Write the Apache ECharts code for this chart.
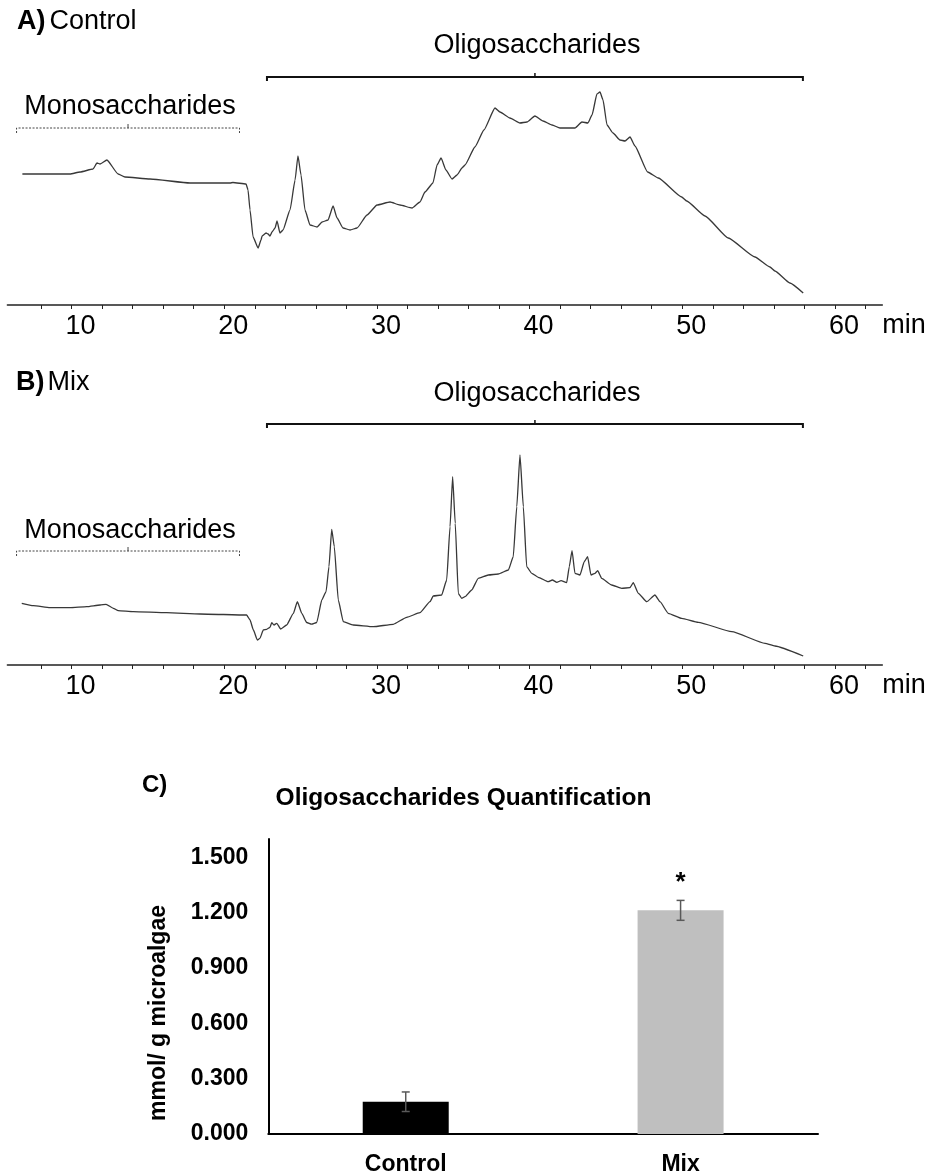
<!DOCTYPE html>
<html><head><meta charset="utf-8">
<script src="https://cdn.jsdelivr.net/npm/echarts@6/dist/echarts.min.js"></script>
<style>html,body{margin:0;padding:0;background:#fff}#c{width:930px;height:1176px}</style>
</head><body><div id="c"></div>
<script>
// ---------- Chromatogram A (Control): retention time (min) and detector signal (arb. units)
const controlTime = [6.78,9.90,10.56,11.41,11.67,11.87,12.32,13.05,13.50,15.14,17.76,20.38,20.57,21.43,21.56,21.69,21.89,22.22,22.41,22.48,22.74,22.87,23.00,23.13,23.33,23.46,23.65,23.85,24.31,24.64,24.83,25.03,25.29,25.62,26.08,26.41,26.80,27.13,27.39,27.78,28.24,28.70,29.35,30.01,30.86,31.51,32.30,32.82,33.15,33.67,33.94,34.20,34.52,34.92,35.25,35.57,35.77,36.42,37.01,37.73,38.06,38.71,39.37,39.83,40.35,40.88,41.47,41.99,42.97,43.43,43.82,44.09,44.41,44.61,44.81,45.07,45.46,45.92,46.25,46.58,46.90,47.73,48.43,49.96,50.29,51.49,53.01,54.76,55.74,56.07,57.05,57.92];
const controlSignal = [131,131,133,136,142,141,145,131,128,126,122,122,122.5,121,115,95,68,57,65,69,72,71,69,73,77,84,72,75,95,125,149,130,95,80,78,83,85,99,87,77,75,77,90,100,103,100,97,103,113,122,140,147,135,126,130,137,140,158,175,197,193,187,182,183,189,184,180,177,177,183,182,190,211,213,205,180,172,165,164,168,159,133,127,108,104,89,67,48,38,34,22,12];

// ---------- Chromatogram B (Mix)
const mixTime = [6.74,7.50,8.59,9.90,11.00,11.87,12.26,12.74,13.06,14.05,16.23,18.42,21.47,21.69,21.91,22.17,22.34,22.56,22.78,23.00,23.11,23.26,23.44,23.70,24.09,24.53,24.79,25.08,25.40,25.72,26.06,26.39,26.67,26.86,27.04,27.21,27.47,27.80,28.45,29.76,31.07,31.95,32.82,33.48,33.69,34.24,34.57,34.79,34.96,35.13,35.33,35.55,35.77,36.21,36.64,37.30,37.95,38.61,38.93,39.16,39.37,39.59,39.81,40.14,40.57,41.22,41.49,41.78,42.06,42.43,42.60,42.78,42.97,43.30,43.58,43.80,44.02,44.28,44.46,44.72,45.38,46.03,46.57,46.79,47.12,47.67,48.21,48.54,49.08,49.96,51.05,53.24,55.42,56.07,57.92];
const mixSignal = [61.7,59.3,57.3,57.3,58.3,60,60.7,56.7,54.3,53.3,52.3,51,50,45,35,25,26.7,35,35.7,37.7,42.3,40,41.7,36,40,51.7,63.3,51.7,42.5,40.8,42.5,65,73.3,98.3,135.7,118.3,65,43.3,40,38.3,40.7,47.7,52.3,63.3,69,70,85,138.3,188.3,141.7,71.7,66.7,68.3,75,86.7,90,91,95,108.3,158.3,210,158.3,98.3,91.7,87.7,83.3,85,82.7,84.3,82.3,98.3,114.3,91.7,90,103.3,108.3,90,91.7,94.3,86.7,80,76.7,77.3,82.3,71.7,63.3,70,63.3,51.7,46.7,42.7,33.3,21.7,19,9];

// ---------- Time axis ticks and annotated regions
const timeTickLabels = [10,20,30,40,50,60];
const timeTicks = [8,10,12,14,16,18,20,22,24,26,28,30,32,34,36,38,40,42,44,46,48,50,52,54,56,58,60,62];
const oligoRange = [22.8, 57.9];
const monoRange = [6.4, 21.0];
const oligoLabel = 'Oligosaccharides';
const monoLabel = 'Monosaccharides';

// ---------- Panel C: quantification
const quantCategories = ['Control', 'Mix'];
const quantValues = [0.175, 1.213];
const quantErrors = [0.053, 0.054];
const quantSignif = ['', '*'];
const quantTickLabels = [0, 0.3, 0.6, 0.9, 1.2, 1.5];

const FONT = '"Liberation Sans", Arial, sans-serif';
const chart = echarts.init(document.getElementById('c'));

function pairs(t, s) { return t.map((x, i) => [x, s[i]]); }

function timeAxis(gridIndex) {
  return {
    type: 'value', gridIndex, min: 5.8, max: 63.1,
    name: 'min', nameLocation: 'end', nameGap: 0,
    nameTextStyle: { fontFamily: FONT, fontSize: 27, color: '#000', verticalAlign: 'top', padding: [7, 0, 0, 0] },
    axisLine: { show: true, onZero: false, lineStyle: { color: '#222', width: 1.5 } },
    axisTick: { show: true, inside: false, length: 4, customValues: timeTicks, lineStyle: { color: '#222', width: 1 } },
    axisLabel: { customValues: timeTickLabels, margin: 8, padding: [0, 0, 0, 18], fontFamily: FONT, fontSize: 27, color: '#000' },
    splitLine: { show: false }
  };
}
function signalAxis(gridIndex) {
  return { type: 'value', gridIndex, min: 0, max: 280, show: false };
}
function trace(idx, t, s) {
  return {
    type: 'line', xAxisIndex: idx, yAxisIndex: idx, data: pairs(t, s),
    showSymbol: false, smooth: 0.15, smoothMonotone: 'x',
    lineStyle: { color: '#383838', width: 1.3, join: 'round' }, silent: true, animation: false
  };
}
function bracket(idx, range, label, level, textGap, dashed) {
  return {
    type: 'custom', xAxisIndex: idx, yAxisIndex: idx, silent: true, animation: false,
    data: [[range[0], range[1], level]],
    renderItem(params, api) {
      const a = api.coord([api.value(0), api.value(2)]);
      const b = api.coord([api.value(1), api.value(2)]);
      const y = a[1], mid = (a[0] + b[0]) / 2;
      const drop = dashed ? 5 : 4;
      const st = dashed
        ? { stroke: '#444', lineWidth: 1, lineDash: [2, 1.5], fill: null }
        : { stroke: '#111', lineWidth: 2, fill: null };
      return {
        type: 'group', children: [
          { type: 'polyline', shape: { points: [[a[0], y + drop], [a[0], y], [b[0], y], [b[0], y + drop]] }, style: st },
          { type: 'line', shape: { x1: mid, y1: y, x2: mid, y2: y - 4 }, style: { stroke: st.stroke, lineWidth: dashed ? 1 : 1.5 } },
          { type: 'text', x: mid + 2, y: y - textGap, style: { text: label, fill: '#000', font: '27px ' + FONT, textAlign: 'center', textVerticalAlign: 'middle' } }
        ]
      };
    }
  };
}

const option = {
  animation: false,
  backgroundColor: '#fff',
  grid: [
    { left: 7.4, right: 47.7, top: 25, bottom: 871 },
    { left: 7.4, right: 47.7, top: 385, bottom: 511 },
    { left: 268.3, right: 112, top: 839, bottom: 40 }
  ],
  xAxis: [
    timeAxis(0), timeAxis(1),
    {
      type: 'category', gridIndex: 2, data: quantCategories,
      axisLine: { lineStyle: { color: '#000', width: 2 } },
      axisTick: { show: false },
      axisLabel: { margin: 19, fontFamily: FONT, fontSize: 23, fontWeight: 'bold', color: '#000' }
    }
  ],
  yAxis: [
    signalAxis(0), signalAxis(1),
    {
      type: 'value', gridIndex: 2, min: 0, max: 1.6,
      name: 'mmol/ g microalgae', nameLocation: 'middle', nameGap: 98, nameRotate: 90,
      nameTextStyle: { fontFamily: FONT, fontSize: 23, fontWeight: 'bold', color: '#000', padding: [0, 53, 0, 0] },
      axisLine: { show: true, lineStyle: { color: '#000', width: 2 } },
      axisTick: { show: false },
      splitLine: { show: false },
      axisLabel: { customValues: quantTickLabels, margin: 20, fontFamily: FONT, fontSize: 23, fontWeight: 'bold', color: '#000',
        formatter: v => Number(v).toFixed(3) }
    }
  ],
  series: [
    trace(0, controlTime, controlSignal),
    trace(1, mixTime, mixSignal),
    bracket(0, oligoRange, oligoLabel, 228, 31, false),
    bracket(0, monoRange, monoLabel, 177, 21, true),
    bracket(1, oligoRange, oligoLabel, 241, 30, false),
    bracket(1, monoRange, monoLabel, 114, 20, true),
    {
      type: 'bar', xAxisIndex: 2, yAxisIndex: 2, barWidth: 86,
      data: quantValues.map((v, i) => ({ value: v, itemStyle: { color: i === 0 ? '#000000' : '#bfbfbf' } }))
    },
    {
      type: 'custom', xAxisIndex: 2, yAxisIndex: 2, z: 10, silent: true,
      data: quantValues.map((v, i) => [i, v - quantErrors[i], v + quantErrors[i]]),
      renderItem(params, api) {
        const lo = api.coord([api.value(0), api.value(1)]);
        const hi = api.coord([api.value(0), api.value(2)]);
        const w = 4;
        const st = { stroke: '#595959', lineWidth: 1.5 };
        const children = [
          { type: 'line', shape: { x1: lo[0], y1: lo[1], x2: hi[0], y2: hi[1] }, style: st },
          { type: 'line', shape: { x1: lo[0] - w, y1: lo[1], x2: lo[0] + w, y2: lo[1] }, style: st },
          { type: 'line', shape: { x1: hi[0] - w, y1: hi[1], x2: hi[0] + w, y2: hi[1] }, style: st }
        ];
        const sig = quantSignif[params.dataIndex];
        if (sig) children.push({ type: 'text', x: hi[0], y: hi[1] - 18,
          style: { text: sig, fill: '#000', font: 'bold 26px ' + FONT, textAlign: 'center', textVerticalAlign: 'middle' } });
        return { type: 'group', children };
      }
    }
  ],
  graphic: [
    { type: 'text', x: 17, y: 21.7, style: { text: '{b|A)}{n|Control}', textVerticalAlign: 'middle',
      rich: { b: { fontFamily: FONT, fontSize: 27, fontWeight: 'bold', fill: '#000', padding: [0, 4, 0, 0] },
              n: { fontFamily: FONT, fontSize: 27, fill: '#000' } } } },
    { type: 'text', x: 16, y: 383, style: { text: '{b|B)}{n|Mix}', textVerticalAlign: 'middle',
      rich: { b: { fontFamily: FONT, fontSize: 27, fontWeight: 'bold', fill: '#000', padding: [0, 3, 0, 0] },
              n: { fontFamily: FONT, fontSize: 27, fill: '#000' } } } },
    { type: 'text', x: 142, y: 785, style: { text: 'C)', font: 'bold 24px ' + FONT, fill: '#000', textVerticalAlign: 'middle' } },
    { type: 'text', x: 463.5, y: 798, style: { text: 'Oligosaccharides Quantification', font: 'bold 24.5px ' + FONT, fill: '#000', textAlign: 'center', textVerticalAlign: 'middle' } }
  ]
};
chart.setOption(option);
</script>
</body></html>
